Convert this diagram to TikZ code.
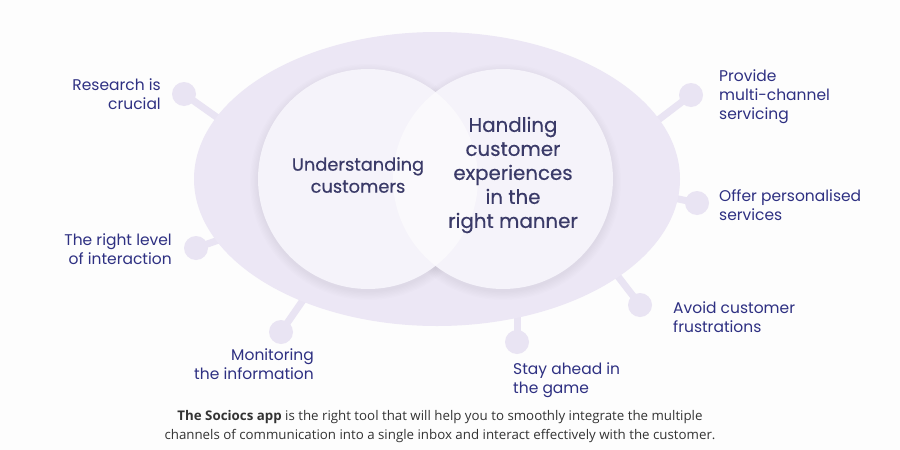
\documentclass[tikz,border=0pt]{standalone}
\usepackage{fontspec}
\usetikzlibrary{shapes.geometric}
\setmainfont{Poppins}
\newfontfamily\poppinsmed[FakeBold=0.4]{Poppins}
\newfontfamily\opensans{Open Sans}
\definecolor{bg}{HTML}{FDFDFD}
\definecolor{oval}{HTML}{ECE7F5}
\definecolor{spoke}{HTML}{E9E4F3}
\definecolor{circfill}{HTML}{F5F3FA}
\definecolor{lensfill}{HTML}{FAF9FC}
\definecolor{lbl}{HTML}{2E3082}
\definecolor{ctr}{HTML}{3A3A68}
\definecolor{foot}{HTML}{333333}
\tikzset{
  dot/.style={circle, fill=spoke, minimum size=24pt, inner sep=0pt},
  spokeline/.style={draw=spoke, line width=7pt},
  lab/.style={font=\fontsize{15.5}{19}\selectfont, text=lbl, inner sep=0pt},
  ctrlab/.style={text=ctr, inner sep=0pt, align=center},
  bigcirc/.style={circle, minimum size=220pt, inner sep=0pt}
}
\begin{document}
\begin{tikzpicture}[x=1pt,y=-1pt]
\fill[bg] (0,0) rectangle (900,450);
\useasboundingbox (0,0) rectangle (900,450);

% outer oval
\node[ellipse, minimum width=486pt, minimum height=294pt, inner sep=0pt] (oval) at (437,179) {};

% dots
\node[dot] (d1) at (184,94) {};
\node[dot] (d2) at (691,95) {};
\node[dot] (d3) at (697,203) {};
\node[dot] (d4) at (640,305) {};
\node[dot] (d5) at (517,342) {};
\node[dot] (d6) at (281,332) {};
\node[dot] (d7) at (196,248) {};

\coordinate (e1) at (232,128);
\coordinate (e2) at (645,130);
\coordinate (e3) at (660,195);
\coordinate (e4) at (610,266);
\coordinate (e5) at (517,290);
\coordinate (e6) at (310,290);
\coordinate (e7) at (230,236);

\foreach \i in {1,...,7} \draw[spokeline] (d\i.center) -- (e\i);

\fill[oval] (oval.center) ellipse [x radius=243, y radius=147];

% circle shadows
\foreach \k in {1,...,7} {
  \fill[black, opacity=0.006] (368,182) circle [radius=109+\k*1.3];
  \fill[black, opacity=0.006] (503,182) circle [radius=109+\k*1.3];
}

\node[bigcirc, fill=circfill] (lc) at (368,179) {};
\node[bigcirc, fill=circfill] (rc) at (503,179) {};
\begin{scope}
  \clip (lc.center) circle [radius=110];
  \fill[lensfill] (rc.center) circle [radius=110];
\end{scope}

% centre texts
\node[ctrlab, font=\poppinsmed\fontsize{17.8}{22}\selectfont] (t1) at (358,175) {Understanding\\customers};
\node[ctrlab, font=\poppinsmed\fontsize{19.8}{24}\selectfont] (t2) at (513,175) {Handling\\customer\\experiences\\in the\\right manner};

% labels
\node[lab, anchor=east, align=right] (l1) at (161,94) {Research is\\crucial};
\node[lab, anchor=east, align=right] (l7) at (172,249) {The right level\\of interaction};
\node[lab, anchor=east, align=right] (l6) at (314,364) {Monitoring\\the information};
\node[lab, anchor=west, align=left] (l5) at (513,380) {Stay ahead in\\the game};
\node[lab, anchor=west, align=left] (l4) at (673,317) {Avoid customer\\frustrations};
\node[lab, anchor=west, align=left] (l3) at (719,205) {Offer personalised\\services};
\node[lab, anchor=west, align=left] (l2) at (719,97) {Provide\\multi-channel\\servicing};

% footer
\node[text=foot, inner sep=0pt, align=center, font=\opensans\fontsize{13.3}{19}\selectfont] (foot) at (440,427)
 {\textbf{The Sociocs app} is the right tool that will help you to smoothly integrate the multiple\\channels of communication into a single inbox and interact effectively with the customer.};
\end{tikzpicture}
\end{document}
